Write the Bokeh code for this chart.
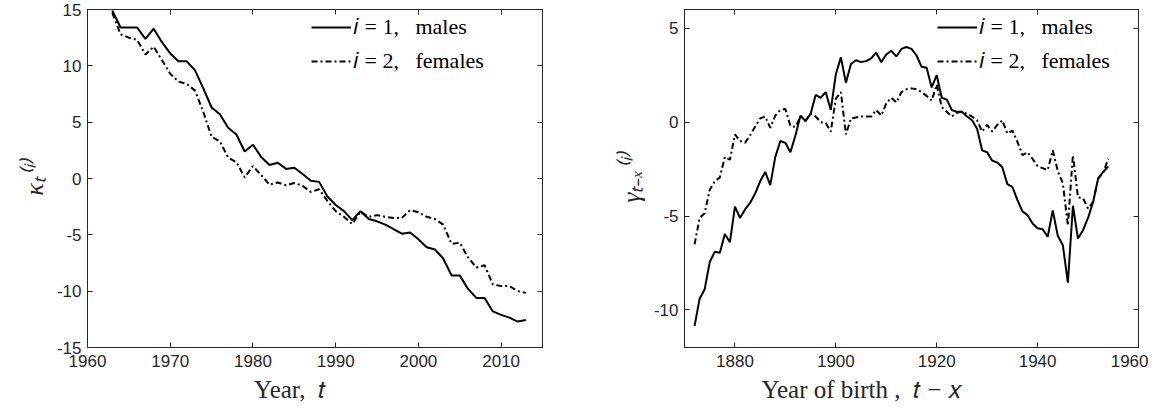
from bokeh.plotting import figure
from bokeh.models import Range1d, FixedTicker, LinearAxis, Legend, LegendItem, CustomJSTickFormatter
from bokeh.layouts import row
from bokeh.embed import file_html
from bokeh.resources import INLINE

# ---------------- data ----------------
years_kappa = list(range(1963, 2014))
kappa_males = [14.9, 13.4, 13.4, 13.4, 12.4, 13.3, 12.1, 11.1, 10.4, 10.4,
               9.6, 8.0, 6.3, 5.7, 4.5, 3.9, 2.4, 3.0, 1.9, 1.2,
               1.4, 0.85, 0.95, 0.4, -0.2, -0.3, -1.6, -2.35, -2.9, -3.7,
               -2.9, -3.6, -3.8, -4.1, -4.5, -4.9, -4.8, -5.4, -6.1, -6.3,
               -7.1, -8.6, -8.6, -9.8, -10.6, -10.6, -11.8, -12.1, -12.35, -12.7,
               -12.55]
kappa_females = [14.7, 12.8, 12.5, 12.3, 11.0, 11.7, 10.5, 9.3, 8.6, 8.4,
                 7.8, 5.9, 3.7, 3.3, 1.85, 1.45, 0.1, 1.1, 0.3, -0.55,
                 -0.35, -0.6, -0.4, -0.65, -1.2, -0.95, -2.0, -2.9, -3.4, -4.05,
                 -2.95, -3.4, -3.25, -3.4, -3.5, -3.5, -2.8, -3.0, -3.4, -3.6,
                 -4.1, -5.8, -5.7, -7.0, -7.9, -7.7, -9.4, -9.55, -9.55, -10.0,
                 -10.15]

cohorts = list(range(1872, 1955))
gamma_males = [-10.85, -9.4, -8.9, -7.45, -6.9, -6.95, -5.95, -6.4, -4.5, -5.1,
               -4.65, -4.3, -3.8, -3.15, -2.65, -3.35, -1.85, -1.0, -1.1, -1.6,
               -0.7, 0.35, 0.05, 0.45, 1.45, 1.3, 1.6, 0.65, 2.55, 3.45,
               2.1, 3.1, 3.3, 3.2, 3.25, 3.4, 3.7, 3.2, 3.6, 3.8,
               3.5, 3.9, 4.0, 3.9, 3.55, 2.95, 2.9, 1.85, 2.5, 1.3,
               1.2, 0.65, 0.55, 0.55, 0.3, 0.1, -0.35, -1.5, -1.6, -2.05,
               -2.15, -2.4, -3.3, -3.45, -4.15, -4.75, -4.95, -5.4, -5.65, -5.7,
               -6.1, -4.7, -6.05, -6.55, -8.55, -4.45, -6.2, -5.75, -5.1, -4.25,
               -3.0, -2.65, -2.35]
gamma_females = [-6.5, -5.1, -4.85, -3.6, -3.15, -2.95, -1.85, -2.0, -0.65, -1.0,
                 -1.1, -0.7, -0.25, 0.2, 0.3, -0.3, 0.35, 0.65, 0.7, -0.2,
                 -0.25, 0.3, 0.1, 0.45, 0.3, 0.0, -0.05, -0.5, 1.25, 1.6,
                 -0.65, 0.2, 0.25, 0.3, 0.3, 0.3, 0.65, 0.35, 1.0, 1.3,
                 1.05, 1.6, 1.75, 1.8, 1.75, 1.6, 1.4, 1.15, 2.0, 0.8,
                 0.55, 0.3, 0.5, 0.55, 0.45, 0.3, 0.1, -0.5, -0.15, -0.5,
                 -0.15, 0.1, -0.6, -0.45, -1.05, -1.75, -1.6, -1.95, -2.35, -2.45,
                 -2.55, -1.5, -2.6, -3.25, -5.5, -1.75, -4.0, -4.05, -4.6, -4.25,
                 -3.0, -2.7, -1.95]

left_xticks = [1960, 1970, 1980, 1990, 2000, 2010]
left_yticks = [-15, -10, -5, 0, 5, 10, 15]
right_xticks = [1880, 1900, 1920, 1940, 1960]
right_yticks = [-10, -5, 0, 5]

label_males = "\U0001D456\u2005=\u20051,\u2002\u2005males"
label_females = "\U0001D456\u2005=\u20052,\u2002\u2005females"
left_xlabel = "Year,\u2002\U0001D461" + "\u2003\u2003"
left_ylabel = "\u03BA\u209C\u207D\u2071\u207E"
right_xlabel = "Year of birth\u2005,\u2002\U0001D461\u2005\u2212\u2005\U0001D465" + "\u2003\u2003\u2003\u2003"
right_ylabel = "\u03B3\u209C\u208B\u2093\u207D\u2071\u207E"

AX = "#262626"
TICK_FONT = "Liberation Sans"
SERIF = "Liberation Serif"


def make_fig(xr, yr, xticks, yticks, fw, mbl, mbr, xlabel, ylabel):
    p = figure(frame_width=fw, frame_height=338,
               x_range=Range1d(*xr), y_range=Range1d(*yr),
               output_backend="svg", toolbar_location=None,
               min_border_left=mbl, min_border_right=mbr,
               min_border_top=9, min_border_bottom=60)
    p.grid.visible = False
    p.outline_line_color = AX
    p.outline_line_width = 1
    for ax, ticks in ((p.xaxis[0], xticks), (p.yaxis[0], yticks)):
        ax.ticker = FixedTicker(ticks=ticks)
        ax.major_label_overrides = {t: str(t) for t in ticks}
        ax.major_tick_in = 5
        ax.major_tick_out = 0
        ax.minor_tick_line_color = None
        ax.axis_line_color = AX
        ax.major_tick_line_color = AX
        ax.major_label_text_color = AX
        ax.major_label_text_font = TICK_FONT
        ax.major_label_text_font_size = "17px"
        ax.axis_label_text_color = AX
        ax.axis_label_text_font_style = "normal"
    p.xaxis[0].major_label_standoff = 7
    p.yaxis[0].major_label_standoff = 6
    p.xaxis[0].axis_label = xlabel
    p.xaxis[0].axis_label_text_font = SERIF
    p.xaxis[0].axis_label_text_font_size = "25px"
    p.xaxis[0].axis_label_standoff = 6
    p.yaxis[0].axis_label = ylabel
    p.yaxis[0].axis_label_text_font = SERIF
    p.yaxis[0].axis_label_text_font_style = "italic"
    p.yaxis[0].axis_label_text_font_size = "26px"
    p.yaxis[0].axis_label_standoff = 5

    for loc, ticks in (("above", xticks), ("right", yticks)):
        a = LinearAxis(ticker=FixedTicker(ticks=ticks),
                       formatter=CustomJSTickFormatter(code="return ''"),
                       major_tick_in=5, major_tick_out=0,
                       major_label_standoff=0,
                       minor_tick_line_color=None,
                       axis_line_color=AX, major_tick_line_color=AX)
        p.add_layout(a, loc)
    return p


def add_lines(p, x, males, females, loc):
    r1 = p.line(x, males, line_color="black", line_width=2)
    r2 = p.line(x, females, line_color="black", line_width=2, line_dash="6 3 2 3")
    leg = Legend(items=[LegendItem(label=label_males, renderers=[r1]),
                        LegendItem(label=label_females, renderers=[r2])],
                 location=loc, orientation="vertical",
                 background_fill_alpha=0, border_line_alpha=0,
                 padding=0, margin=0, spacing=8,
                 glyph_width=40, glyph_height=20, label_height=20,
                 label_standoff=2,
                 label_text_font=SERIF, label_text_font_size="22px",
                 label_text_color="black")
    p.add_layout(leg, "center")


p1 = make_fig((1960, 2015), (-15, 15), left_xticks, left_yticks, 455, 87, 10,
              left_xlabel, left_ylabel)
add_lines(p1, years_kappa, kappa_males, kappa_females, (224, 273))

p2 = make_fig((1870, 1960), (-12, 6), right_xticks, right_yticks, 454, 132, 10,
              right_xlabel, right_ylabel)
add_lines(p2, cohorts, gamma_males, gamma_females, (253, 273))

layout = row(p1, p2)
open("out.html", "w").write(file_html(layout, INLINE))
